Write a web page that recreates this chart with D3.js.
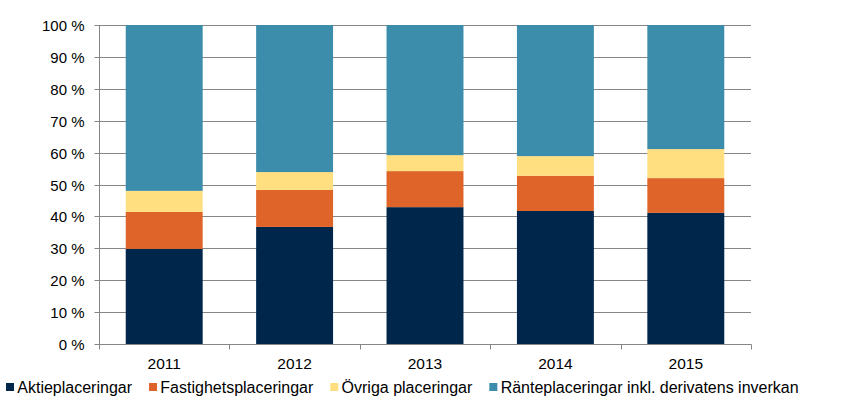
<!DOCTYPE html>
<html>
<head>
<meta charset="utf-8">
<script src="https://cdn.jsdelivr.net/npm/d3@7"></script>
<style>
  html, body { margin: 0; padding: 0; background: #fff; }
  svg { display: block; font-family: "Liberation Sans", Arial, sans-serif; }
</style>
</head>
<body>
<svg id="chart" width="855" height="409"></svg>
<script>
const years = ["2011", "2012", "2013", "2014", "2015"];
const seriesNames = ["Aktieplaceringar", "Fastighetsplaceringar", "Övriga placeringar", "Ränteplaceringar inkl. derivatens inverkan"];
const aktie    = [29.8, 36.7, 42.9, 41.7, 41.1];
const fastighet = [11.6, 11.6, 11.3, 11.0, 10.9];
const ovriga   = [6.6, 5.6, 5.0, 6.2, 9.1];
const ranta    = [52.0, 46.1, 40.8, 41.1, 38.9];
const yTicks = [0, 10, 20, 30, 40, 50, 60, 70, 80, 90, 100];
const colors = ["#00264B", "#DF6429", "#FFDF80", "#3B8DAB"];

const svg = d3.select("#chart");
const mLeft = 99, mRight = 751, mTop = 25, mBottom = 344;

const x = d3.scaleBand().domain(years).range([mLeft, mRight]).paddingInner(0.41).paddingOuter(0.205);
const y = d3.scaleLinear().domain([0, 100]).range([mBottom, mTop]);

const rows = years.map((yr, i) => ({ year: yr, s0: aktie[i], s1: fastighet[i], s2: ovriga[i], s3: ranta[i] }));
const stack = d3.stack().keys(["s0", "s1", "s2", "s3"]);
const stacked = stack(rows);

const gridColor = "#868686";

// gridlines
svg.append("g").selectAll("line").data(yTicks.filter(d => d > 0)).join("line")
  .attr("x1", mLeft).attr("x2", mRight)
  .attr("y1", d => Math.round(y(d)) + 0.5).attr("y2", d => Math.round(y(d)) + 0.5)
  .attr("stroke", gridColor).attr("stroke-width", 1);

// bars
svg.append("g").selectAll("g").data(stacked).join("g")
  .attr("fill", (d, i) => colors[i])
  .selectAll("rect").data(d => d).join("rect")
  .attr("x", d => x(d.data.year))
  .attr("width", x.bandwidth())
  .attr("y", d => y(d[1]))
  .attr("height", d => y(d[0]) - y(d[1]));

// y axis
const yAxis = d3.axisLeft(y).tickValues(yTicks).tickSize(5).tickPadding(10).tickFormat(d => d + " %");
const gy = svg.append("g").attr("transform", `translate(${mLeft + 0.5},0.5)`).call(yAxis);
gy.select(".domain").attr("stroke", gridColor).attr("d", `M0,${mTop - 0.5}V${mBottom}`);
gy.selectAll(".tick line").attr("stroke", gridColor);
gy.selectAll(".tick").attr("transform", d => `translate(0,${Math.round(y(d))})`);
gy.selectAll("text").attr("font-size", "15px").attr("fill", "#000").attr("font-family", "Liberation Sans, Arial, sans-serif").attr("dy", "0.35em");

// x axis
const gx = svg.append("g").attr("transform", `translate(0,${mBottom + 0.5})`);
gx.append("line").attr("x1", mLeft).attr("x2", mRight + 0.5).attr("y1", 0).attr("y2", 0).attr("stroke", gridColor);
const boundaries = d3.range(years.length + 1).map(i => mLeft + i * (mRight - mLeft) / years.length);
gx.selectAll("line.tk").data(boundaries).join("line").attr("class", "tk")
  .attr("x1", d => Math.round(d) + 0.5).attr("x2", d => Math.round(d) + 0.5)
  .attr("y1", 0).attr("y2", 5).attr("stroke", gridColor);
gx.selectAll("text").data(years).join("text")
  .attr("x", d => x(d) + x.bandwidth() / 2)
  .attr("y", 24)
  .attr("text-anchor", "middle")
  .attr("font-size", "15.5px").attr("fill", "#000")
  .text(d => d);

// legend
const lg = svg.append("g");
let lx = 6;
seriesNames.forEach((name, i) => {
  lg.append("rect").attr("x", lx).attr("y", 383).attr("width", 8).attr("height", 8).attr("fill", colors[i]);
  const t = lg.append("text").attr("x", lx + 11.3).attr("y", 392.5)
    .attr("font-size", "16px").attr("fill", "#000").text(name);
  const w = t.node().getComputedTextLength();
  lx = lx + 11.3 + w + 17;
});
</script>
</body>
</html>
